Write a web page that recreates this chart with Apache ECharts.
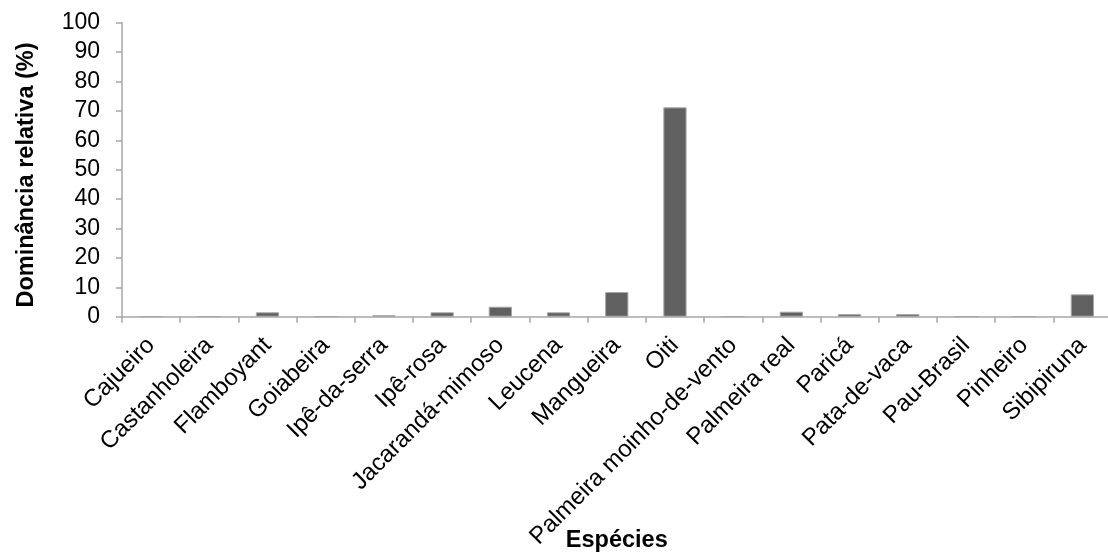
<!DOCTYPE html>
<html>
<head>
<meta charset="utf-8">
<script src="https://cdn.jsdelivr.net/npm/echarts@6/dist/echarts.min.js"></script>
<style>
html,body{margin:0;padding:0;background:#fff;}
#chart{width:1108px;height:552px;}
</style>
</head>
<body>
<div id="chart"></div>
<script>
const categories = ["Cajueiro","Castanholeira","Flamboyant","Goiabeira","Ipê-da-serra","Ipê-rosa","Jacarandá-mimoso","Leucena","Mangueira","Oiti","Palmeira moinho-de-vento","Palmeira real","Paricá","Pata-de-vaca","Pau-Brasil","Pinheiro","Sibipiruna"];
const values = [0.1,0.1,1.5,0.1,0.5,1.5,3.4,1.5,8.4,71.2,0.1,1.7,0.9,0.9,0.1,0.1,7.6];
const yTicks = {min:0, max:100, interval:10};
const xTitle = "Espécies";
const yTitle = "Dominância relativa (%)";

const font = "'Liberation Sans', Arial, sans-serif";
const chart = echarts.init(document.getElementById('chart'), null, {renderer:'canvas'});
chart.setOption({
  animation:false,
  backgroundColor:'#ffffff',
  grid:{left:122, top:22.7, width:989.5, height:294, containLabel:false, outerBoundsMode:'none'},
  graphic:[{
    type:'text',
    x:27, y:175,
    rotation:Math.PI/2,
    style:{text:yTitle, fontFamily:font, fontSize:23.5, fontWeight:'bold', fill:'#000', align:'center', verticalAlign:'middle'}
  }],
  xAxis:{
    type:'category',
    data:categories,
    name:xTitle,
    nameLocation:'middle',
    nameGap:212,
    nameMoveOverlap:false,
    nameTextStyle:{fontFamily:font, fontSize:23.5, fontWeight:'bold', color:'#000'},
    axisLine:{lineStyle:{color:'#a6a6a6', width:1.5}},
    axisTick:{show:true, length:6, lineStyle:{color:'#a6a6a6', width:1.5}},
    axisLabel:{interval:0, rotate:45, margin:25, fontFamily:font, fontSize:24, color:'#000'},
    splitLine:{show:false}
  },
  yAxis:{
    type:'value',
    min:yTicks.min, max:yTicks.max, interval:yTicks.interval,
    axisLine:{show:true, lineStyle:{color:'#a6a6a6', width:1.5}},
    axisTick:{show:true, length:6, lineStyle:{color:'#a6a6a6', width:1.5}},
    axisLabel:{margin:22, fontFamily:font, fontSize:23, color:'#000'},
    splitLine:{show:false}
  },
  series:[{
    type:'bar',
    data:values,
    barWidth:'40%',
    itemStyle:{color:'#606060', borderColor:'#a8a8a8', borderWidth:1}
  }]
});
</script>
</body>
</html>
